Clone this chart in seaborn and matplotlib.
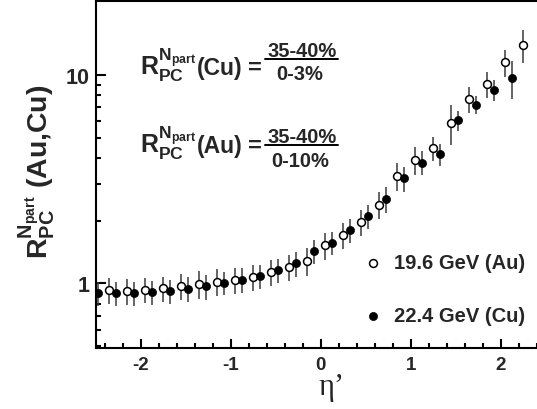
import numpy as np
import pandas as pd
import matplotlib
matplotlib.use("Agg")
import matplotlib.pyplot as plt
import seaborn as sns
from matplotlib.ticker import FixedLocator, FixedFormatter, NullFormatter
from matplotlib.lines import Line2D

# ---------------- data ----------------
eta_au = [-2.35, -2.15, -1.95, -1.75, -1.55, -1.35, -1.15, -0.95, -0.75, -0.55, -0.35, -0.15,
          0.05, 0.25, 0.45, 0.65, 0.85, 1.05, 1.25, 1.45, 1.65, 1.85, 2.05, 2.25]
r_au = [0.929, 0.921, 0.932, 0.949, 0.974, 0.996, 1.018, 1.039, 1.074, 1.133, 1.197, 1.284,
        1.522, 1.706, 1.97, 2.39, 3.28, 3.90, 4.46, 5.92, 7.67, 9.09, 11.5, 13.9]
err_au = [0.13, 0.13, 0.13, 0.13, 0.14, 0.15, 0.15, 0.15, 0.15, 0.16, 0.17, 0.20,
          0.23, 0.24, 0.28, 0.36, 0.50, 0.60, 0.60, 1.30, 1.10, 1.30, 1.70, 2.50]

eta_cu = [-2.47, -2.27, -2.07, -1.87, -1.67, -1.47, -1.27, -1.07, -0.87, -0.67, -0.47, -0.27,
          -0.07, 0.13, 0.33, 0.53, 0.73, 0.93, 1.13, 1.33, 1.53, 1.73, 1.93, 2.13]
r_cu = [0.898, 0.901, 0.898, 0.911, 0.921, 0.942, 0.967, 1.007, 1.041, 1.084, 1.158, 1.247,
        1.424, 1.566, 1.808, 2.11, 2.54, 3.19, 3.80, 4.17, 6.06, 7.22, 8.50, 9.66]
err_cu = [0.12, 0.12, 0.12, 0.12, 0.12, 0.13, 0.13, 0.13, 0.14, 0.14, 0.15, 0.17,
          0.19, 0.20, 0.24, 0.28, 0.35, 0.45, 0.50, 0.50, 0.65, 0.75, 1.00, 2.00]

label_au = "19.6 GeV (Au)"
label_cu = "22.4 GeV (Cu)"
y_major = [1, 10]
y_major_labels = ["1", "10"]
y_minor = [0.5, 0.6, 0.7, 0.8, 0.9, 2, 3, 4, 5, 6, 7, 8, 9]
x_major = [-2, -1, 0, 1, 2]
x_minor = [-2.4, -2.2, -1.8, -1.6, -1.4, -1.2, -0.8, -0.6, -0.4, -0.2, 0.2, 0.4, 0.6, 0.8,
           1.2, 1.4, 1.6, 1.8, 2.2, 2.4]

df_au = pd.DataFrame({"eta": eta_au, "R": r_au, "err": err_au})
df_cu = pd.DataFrame({"eta": eta_cu, "R": r_cu, "err": err_cu})

# ---------------- style ----------------
sns.set_style("ticks")
plt.rcParams["font.family"] = ["Liberation Sans", "DejaVu Sans"]
plt.rcParams["font.weight"] = "bold"
plt.rcParams["mathtext.fontset"] = "custom"
plt.rcParams["mathtext.bf"] = "Liberation Sans:bold"
plt.rcParams["mathtext.rm"] = "Liberation Sans:bold"
plt.rcParams["mathtext.it"] = "Liberation Sans:bold"
plt.rcParams["mathtext.default"] = "bf"

W, H = 537, 410
fig = plt.figure(figsize=(W / 100, H / 100), dpi=100)

def fx(x):
    return x / W

def fy(y):
    return 1 - y / H

ax_left, ax_right, ax_top, ax_bot = 95.5, 545.6, 1.5, 349
ax = fig.add_axes([fx(ax_left), fy(ax_bot), (ax_right - ax_left) / W, (ax_bot - ax_top) / H])

# error bars
ax.errorbar(df_au["eta"], df_au["R"], yerr=df_au["err"], fmt="none", ecolor="#3a3a3a",
            elinewidth=1.1, capsize=0, zorder=2)
ax.errorbar(df_cu["eta"], df_cu["R"], yerr=df_cu["err"], fmt="none", ecolor="#3a3a3a",
            elinewidth=1.1, capsize=0, zorder=2)
# markers
sns.scatterplot(data=df_au, x="eta", y="R", ax=ax, marker="o", s=32, facecolor="white",
                edgecolor="black", linewidth=1.1, label=label_au, zorder=3)
sns.scatterplot(data=df_cu, x="eta", y="R", ax=ax, marker="o", s=34, color="black",
                edgecolor="black", linewidth=0.5, label=label_cu, zorder=3)

ax.set_yscale("log")
ax.set_xlim(-2.5, 2.5)
ax.set_ylim(0.49, 22.8)
ax.yaxis.set_major_locator(FixedLocator(y_major))
ax.yaxis.set_major_formatter(FixedFormatter(y_major_labels))
ax.yaxis.set_minor_locator(FixedLocator(y_minor))
ax.yaxis.set_minor_formatter(NullFormatter())
ax.xaxis.set_major_locator(FixedLocator(x_major))
ax.xaxis.set_minor_locator(FixedLocator(x_minor))
ax.set_xticklabels([str(v) for v in x_major])

for s in ax.spines.values():
    s.set_linewidth(1.5)
    s.set_color("black")
ax.tick_params(which="both", direction="in", width=1.5, color="black")
ax.tick_params(axis="y", which="major", length=7, labelsize=15.5, pad=4)
ax.tick_params(axis="y", which="minor", length=3.8)
ax.tick_params(axis="x", which="major", length=6.5, labelsize=13.5, pad=6)
ax.tick_params(axis="x", which="minor", length=3.5)
for lab in ax.get_xticklabels() + ax.get_yticklabels():
    lab.set_fontweight("bold")
ax.set_xlabel("")
ax.set_ylabel("")

# legend
fs_leg = 14.5
ax.legend(loc="center left", bbox_to_anchor=(fx(362.6), fy(290)), bbox_transform=fig.transFigure,
          frameon=False, fontsize=fs_leg, handlelength=1.0, handletextpad=0.57,
          labelspacing=1.67, borderpad=0, borderaxespad=0, markerscale=1.0)

# axis titles
fig.text(fx(37), fy(172), r"$R^{N_{part}}_{PC}$ (Au,Cu)", rotation=90, ha="center", va="center",
         fontsize=20.5, fontweight="bold")
fig.text(fx(331), fy(395), "η’", ha="center", va="baseline", fontsize=22,
         fontweight="normal", family=["Liberation Serif", "DejaVu Serif"])

# formula annotations
for (name, ybase, num_b, line_y, den_b, den) in [("(Cu)", 75, 57, 60, 80, "0-3%"),
                                                  ("(Au)", 153, 143, 146, 167, "0-10%")]:
    fig.text(fx(140), fy(ybase), r"$R^{N_{part}}_{PC}$", fontsize=18, va="baseline", ha="left")
    fig.text(fx(197), fy(ybase), name, fontsize=16.5, fontweight="bold", va="baseline", ha="left")
    fig.text(fx(248), fy(ybase), "=", fontsize=17, fontweight="bold", va="baseline", ha="left")
    fig.text(fx(302), fy(num_b), "35-40%", fontsize=14.5, fontweight="bold", va="baseline", ha="center")
    fig.text(fx(300), fy(den_b), den, fontsize=14.5, fontweight="bold", va="baseline", ha="center")
    fig.add_artist(Line2D([fx(265), fx(338)], [fy(line_y), fy(line_y)], lw=1.4, color="black"))

fig.savefig("out.png", dpi=100)
